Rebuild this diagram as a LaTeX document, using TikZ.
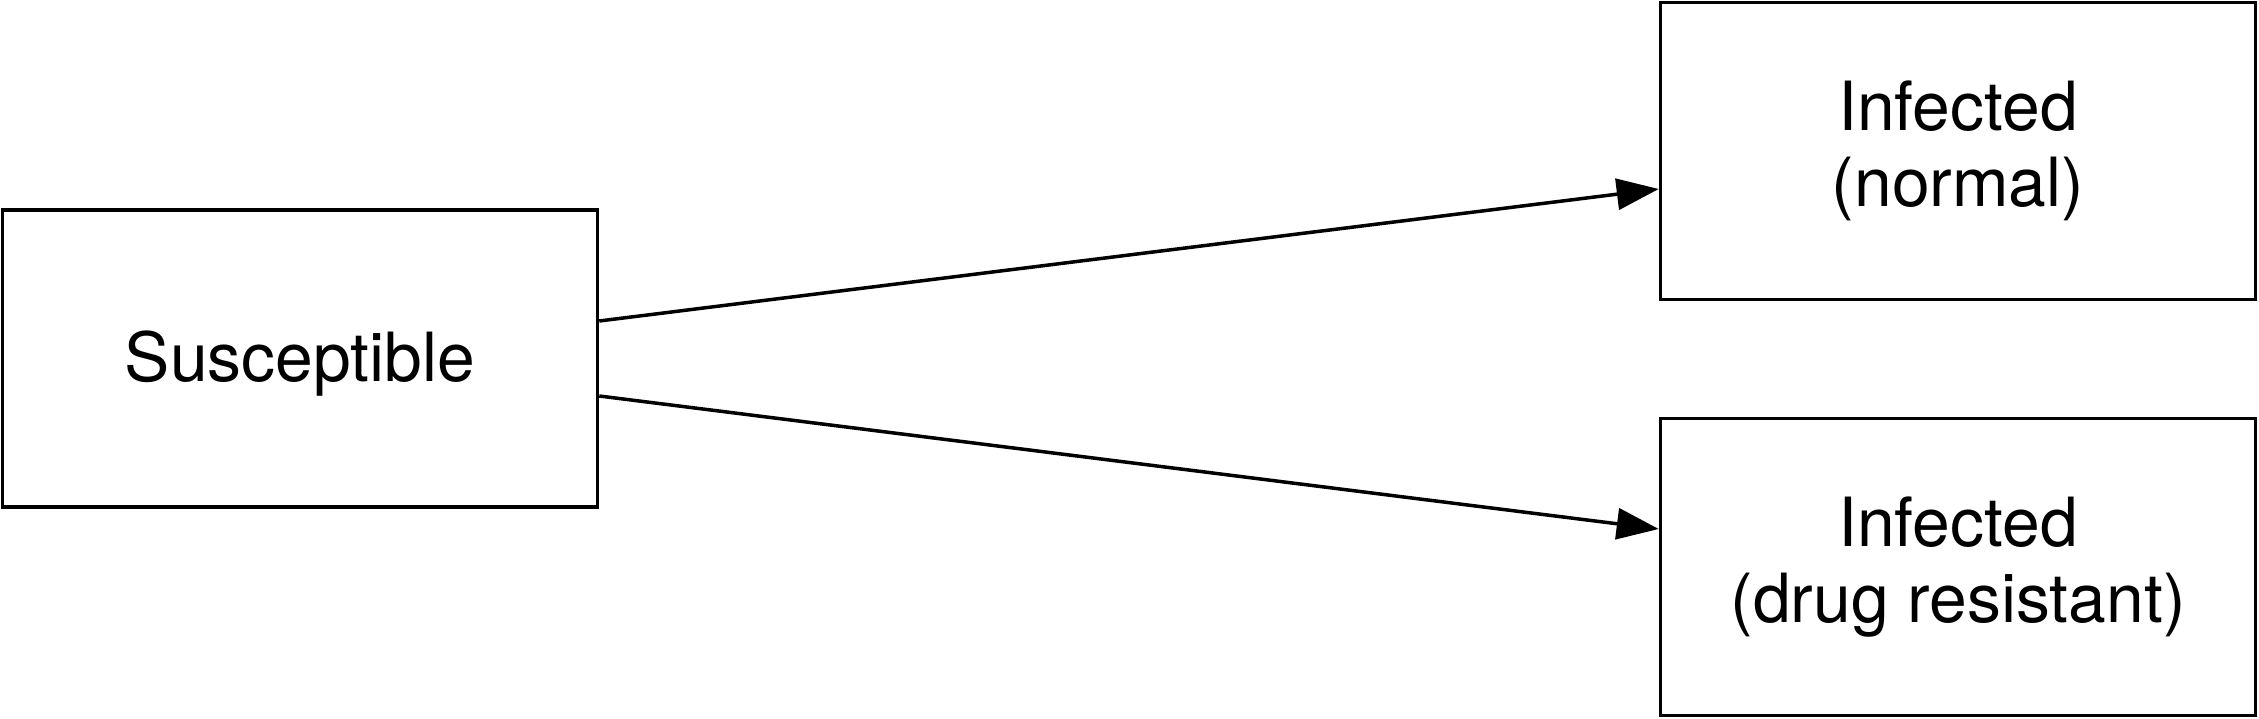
\documentclass[tikz,border=0pt]{standalone}
\usepackage{fontspec}
\setmainfont{TeX Gyre Heros}
\usetikzlibrary{arrows.meta}
\tikzset{
    box/.style={draw, line width=0.035cm, minimum width=5.95cm, minimum height=2.97cm,
        inner sep=0pt, align=center, font=\fontsize{19.3}{21.8}\selectfont,
        execute at begin node={\rule{0pt}{0.61cm}}},
    flow/.style={line width=0.035cm, -{Triangle[length=0.42cm, width=0.31cm]}}
}
\begin{document}
\begin{tikzpicture}
    \useasboundingbox (0,0) rectangle (22.59,-7.19);
    \node[box] (sus) at (3.00,-3.585) {Susceptible};
    \node[box] (infn) at (19.58,-1.51) {Infected\\(normal)};
    \node[box] (infr) at (19.58,-5.67) {Infected\\(drug resistant)};
    \draw[flow] ([yshift=0.375cm]sus.east) -- ([yshift=-0.38cm]infn.west);
    \draw[flow] ([yshift=-0.375cm]sus.east) -- ([yshift=0.38cm]infr.west);
\end{tikzpicture}
\end{document}
